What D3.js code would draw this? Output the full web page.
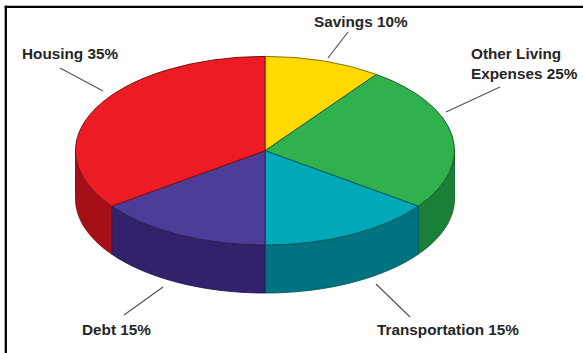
<!DOCTYPE html>
<html>
<head>
<meta charset="utf-8">
<script src="https://cdn.jsdelivr.net/npm/d3@7"></script>
<style>
  html, body { margin: 0; padding: 0; background: #fff; }
  svg { display: block; }
  text { font-family: "Liberation Sans", Arial, sans-serif; font-weight: 700; font-size: 15.3px; fill: #262626; }
</style>
</head>
<body>
<svg id="chart" width="583" height="353"></svg>
<script>
// Budget shares, clockwise from twelve o'clock
const categories = ["Savings", "Other Living Expenses", "Transportation", "Debt", "Housing"];
const shares = [10, 25, 15, 15, 35];
const topColors = ["#ffd900", "#2fb14e", "#00a9b8", "#4e3d98", "#ed1c24"];
const wallColors = ["#c9a800", "#1a7f37", "#007380", "#32226b", "#a50f15"];

// Callout text lines with their anchor positions
const labelLines = [
  { text: "Housing 35%", x: 22, y: 59 },
  { text: "Savings 10%", x: 314, y: 26.5 },
  { text: "Other Living", x: 471, y: 59 },
  { text: "Expenses 25%", x: 471, y: 78.5 },
  { text: "Debt 15%", x: 82, y: 335 },
  { text: "Transportation 15%", x: 377, y: 335 }
];
const leaders = [
  [60, 68, 103, 91],
  [348, 32, 328, 58],
  [500, 87, 446, 112],
  [163, 287, 124, 315],
  [376, 284, 410, 317]
];

const cx = 265, cy = 150.7, rx = 189.5, ry = 94.3, depth = 48;

const svg = d3.select("#chart");

// Frame: heavy rules on the top and left edges
svg.append("line").attr("x1", 4.7).attr("y1", 6.8).attr("x2", 583).attr("y2", 6.8)
  .attr("stroke", "#000").attr("stroke-width", 2.3);
svg.append("line").attr("x1", 5.8).attr("y1", 5.7).attr("x2", 5.8).attr("y2", 353)
  .attr("stroke", "#000").attr("stroke-width", 2.3);

const slices = d3.pie().sort(null).value(d => d)(shares);

// Maps a pie angle (0 at twelve o'clock, clockwise) onto the tilted rim
const rimX = a => cx + rx * Math.sin(a);
const rimY = a => cy - ry * Math.cos(a);

// Side walls: only the part of each slice on the near half of the rim is visible
const wall = d3.area().x(a => rimX(a)).y0(a => rimY(a)).y1(a => rimY(a) + depth);
const nearStart = Math.PI / 2, nearEnd = Math.PI * 1.5;

svg.append("g").selectAll("path")
  .data(slices.filter(s => s.endAngle > nearStart && s.startAngle < nearEnd))
  .join("path")
  .attr("d", s => {
    const a0 = Math.max(s.startAngle, nearStart), a1 = Math.min(s.endAngle, nearEnd);
    const steps = d3.range(0, 61).map(i => a0 + (a1 - a0) * i / 60);
    return wall(steps);
  })
  .attr("fill", s => wallColors[s.index])
  .attr("stroke", s => d3.color(wallColors[s.index]).darker(0.9))
  .attr("stroke-width", 0.9)
  .attr("stroke-linejoin", "round");

// Top face: a flat pie squashed vertically into an ellipse
const arc = d3.arc().innerRadius(0).outerRadius(rx);
svg.append("g")
  .attr("transform", `translate(${cx},${cy}) scale(1,${ry / rx})`)
  .selectAll("path")
  .data(slices)
  .join("path")
  .attr("d", arc)
  .attr("fill", s => topColors[s.index])
  .attr("stroke", s => d3.color(topColors[s.index]).darker(1.8))
  .attr("stroke-width", 1)
  .attr("stroke-linejoin", "round")
  .attr("vector-effect", "non-scaling-stroke");

// Leader lines
svg.append("g").selectAll("line")
  .data(leaders)
  .join("line")
  .attr("x1", d => d[0]).attr("y1", d => d[1])
  .attr("x2", d => d[2]).attr("y2", d => d[3])
  .attr("stroke", "#555")
  .attr("stroke-width", 1.2);

// Callout labels
svg.append("g").selectAll("text")
  .data(labelLines)
  .join("text")
  .attr("x", d => d.x)
  .attr("y", d => d.y)
  .text(d => d.text);
</script>
</body>
</html>
